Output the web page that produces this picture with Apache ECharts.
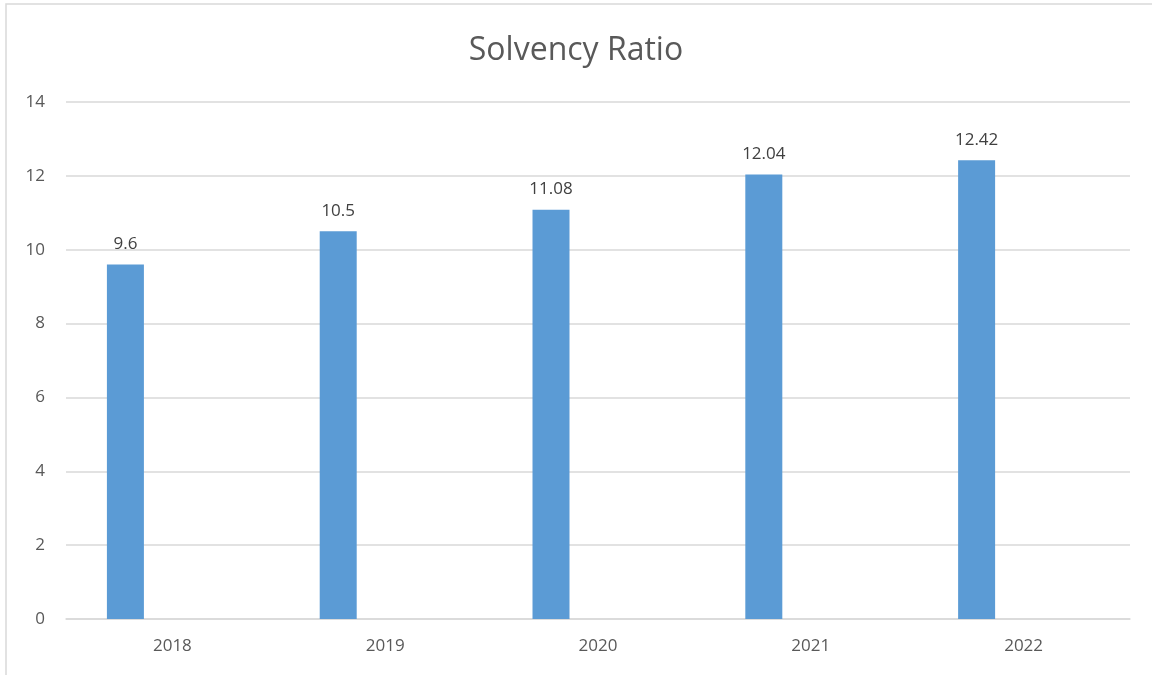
<!DOCTYPE html>
<html><head><meta charset="utf-8">
<script src="https://cdn.jsdelivr.net/npm/echarts@6/dist/echarts.min.js"></script>
<style>html,body{margin:0;padding:0;background:#fff}#c{width:1152px;height:675px}</style>
</head><body><div id="c"></div>
<script>
const categories = ['2018','2019','2020','2021','2022'];
const solvency = [9.6, 10.5, 11.08, 12.04, 12.42];
const emptySeries = [null, null, null, null, null];
const yTicks = [0, 2, 4, 6, 8, 10, 12, 14];

const chart = echarts.init(document.getElementById('c'));
const font = '"Open Sans", "Liberation Sans", sans-serif';
chart.setOption({
  animation: false,
  backgroundColor: '#fff',
  graphic: [{
    type: 'rect', shape: {x: 6, y: 4, width: 1160, height: 700},
    style: {fill: 'none', stroke: '#d9d9d9', lineWidth: 1.5}, silent: true
  }],
  title: {
    text: 'Solvency Ratio', left: 'center', top: 30,
    textStyle: {fontFamily: font, fontSize: 32, fontWeight: 'normal', color: '#595959'}
  },
  grid: {left: 66, right: 22, top: 102, bottom: 56, containLabel: false},
  xAxis: {
    type: 'category', data: categories,
    axisLine: {lineStyle: {color: '#d9d9d9', width: 1.5}},
    axisTick: {show: false},
    axisLabel: {color: '#595959', fontFamily: font, fontSize: 17, margin: 19}
  },
  yAxis: {
    type: 'value', min: yTicks[0], max: yTicks[yTicks.length - 1], interval: 2,
    axisLine: {show: false}, axisTick: {show: false},
    splitLine: {lineStyle: {color: '#d9d9d9', width: 1.5}},
    axisLabel: {color: '#595959', fontFamily: font, fontSize: 17, margin: 21}
  },
  series: [{
    type: 'bar', data: solvency, barWidth: 37, barGap: '154%',
    itemStyle: {color: '#5b9bd5'},
    label: {show: true, position: 'top', distance: 12, color: '#404040', fontFamily: font, fontSize: 17}
  }, {
    type: 'bar', data: emptySeries, barWidth: 37, itemStyle: {color: '#ed7d31'}
  }]
});
</script></body></html>
